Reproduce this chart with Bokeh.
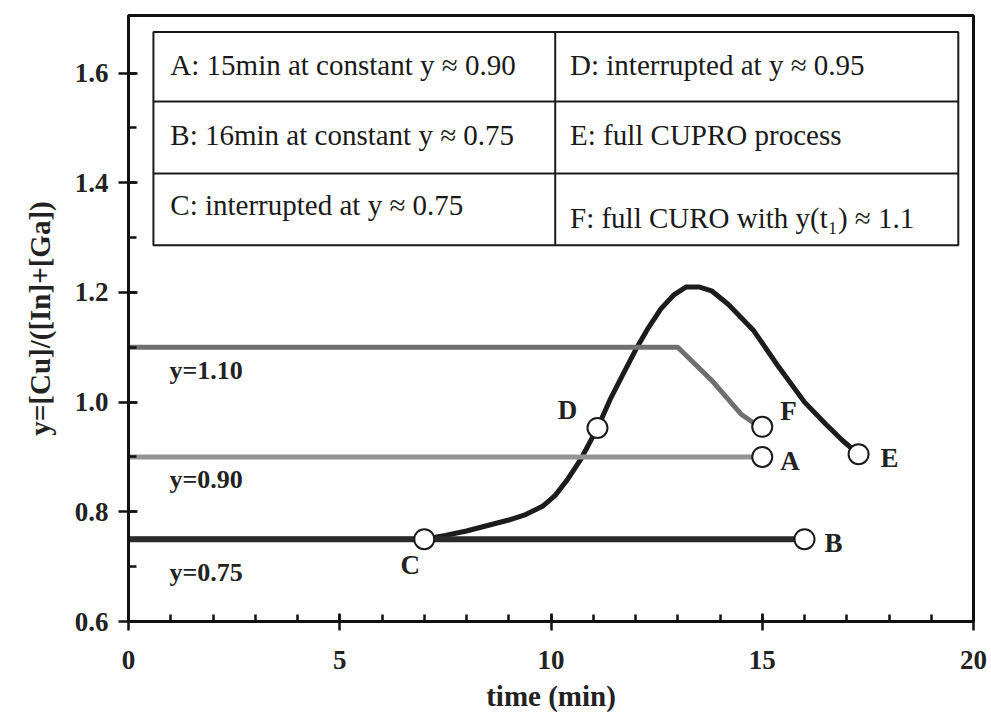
from bokeh.plotting import figure
from bokeh.models import FixedTicker, PrintfTickFormatter, Label, ColumnDataSource
from bokeh.core.properties import value
from bokeh.embed import file_html
from bokeh.resources import INLINE

# ---- data ----
time_A = [0, 15.0]
y_A = [0.90, 0.90]
time_B = [0, 16.0]
y_B = [0.75, 0.75]
time_F = [0, 13.0, 13.8, 14.5, 14.8, 15.0]
y_F = [1.10, 1.10, 1.04, 0.978, 0.962, 0.955]
time_E = [0, 7.0, 7.5, 8.0, 8.5, 9.0, 9.4, 9.8, 10.1, 10.4, 10.7, 11.1, 11.4, 11.7, 12.0,
          12.3, 12.6, 12.9, 13.2, 13.5, 13.8, 14.2, 14.8, 15.4, 16.0, 16.5, 16.9, 17.28]
y_E = [0.75, 0.75, 0.757, 0.765, 0.775, 0.785, 0.795, 0.81, 0.83, 0.86, 0.895, 0.953, 1.005,
       1.05, 1.095, 1.135, 1.17, 1.195, 1.21, 1.21, 1.203, 1.178, 1.13, 1.063, 1.0, 0.96,
       0.93, 0.905]

marker_names = ["C", "D", "F", "A", "B", "E"]
marker_t = [7.0, 11.1, 15.0, 15.0, 16.0, 17.28]
marker_y = [0.75, 0.953, 0.955, 0.90, 0.75, 0.905]

level_labels = ["y=1.10", "y=0.90", "y=0.75"]
level_values = [1.10, 0.90, 0.75]

table_left = ["A: 15min at constant y \u2248 0.90",
              "B: 16min at constant y \u2248 0.75",
              "C: interrupted at y \u2248 0.75"]
table_right = ["D: interrupted at y \u2248 0.95",
               "E: full CUPRO process",
               "F: full CURO with y(t\u2081) \u2248 1.1"]

x_major = [0, 5, 10, 15, 20]
x_minor = [i for i in range(0, 21)]
y_major = [0.6, 0.8, 1.0, 1.2, 1.4, 1.6]
y_minor = [0.6, 0.7, 0.8, 0.9, 1.0, 1.1, 1.2, 1.3, 1.4, 1.5, 1.6]

SERIF = "Liberation Serif"

p = figure(width=991, height=715, x_range=(0, 20), y_range=(0.6, 1.705),
           output_backend="svg", toolbar_location=None,
           min_border_left=128, min_border_right=18, min_border_top=15, min_border_bottom=94)
p.xgrid.visible = False
p.ygrid.visible = False
p.background_fill_color = "white"
p.border_fill_color = "white"
p.outline_line_color = "#111111"
p.outline_line_width = 3

for ax in (p.xaxis[0], p.yaxis[0]):
    ax.axis_line_width = 3
    ax.axis_line_color = "#111111"
    ax.major_tick_line_width = 2.5
    ax.minor_tick_line_width = 2.5
    ax.major_tick_line_color = "#111111"
    ax.minor_tick_line_color = "#111111"
    ax.major_label_text_font = SERIF
    ax.major_label_text_font_style = "bold"
    ax.major_label_text_font_size = "27px"
    ax.major_label_text_color = "#222222"
    ax.axis_label_text_font = SERIF
    ax.axis_label_text_font_style = "bold"
    ax.axis_label_text_font_size = "29px"
    ax.axis_label_text_color = "#222222"

p.xaxis.ticker = FixedTicker(ticks=x_major, minor_ticks=x_minor)
p.xaxis.major_tick_in = 8
p.xaxis.major_tick_out = 9
p.xaxis.minor_tick_in = 7
p.xaxis.minor_tick_out = 0
p.xaxis.major_label_standoff = 20
p.xaxis.axis_label = "time (min)"
p.xaxis.axis_label_standoff = 8

p.yaxis.ticker = FixedTicker(ticks=y_major, minor_ticks=y_minor)
p.yaxis.formatter = PrintfTickFormatter(format="%.1f")
p.yaxis.major_tick_in = 9
p.yaxis.major_tick_out = 10
p.yaxis.minor_tick_in = 8
p.yaxis.minor_tick_out = 0
p.yaxis.major_label_standoff = 10
p.yaxis.axis_label = "y=[Cu]/([In]+[Ga])"
p.yaxis.axis_label_standoff = 16

# ---- curves ----
p.line(time_E, y_E, line_color="#1c1c1c", line_width=5, line_join="round")
p.line(time_B, y_B, line_color="#2b2b2b", line_width=6)
p.line(time_A, y_A, line_color="#939393", line_width=5)
p.line(time_F, y_F, line_color="#6f6f6f", line_width=5, line_join="round")

p.scatter(marker_t, marker_y, size=20, fill_color="white", line_color="#1a1a1a", line_width=2)

# marker letters with pixel offsets
offs = {"C": (-14, -26, "center"), "D": (-30, 18, "center"), "F": (18, 16, "left"),
        "A": (18, -4, "left"), "B": (20, -4, "left"), "E": (22, -4, "left")}
for n, t, yv in zip(marker_names, marker_t, marker_y):
    dx, dy, al = offs[n]
    p.add_layout(Label(x=t, y=yv, x_offset=dx, y_offset=dy, text=n, text_align=al,
                       text_baseline="middle", text_font=SERIF, text_font_style="bold",
                       text_font_size="27px", text_color="#222222"))

# level labels under lines
for lab, lv in zip(level_labels, level_values):
    p.add_layout(Label(x=0.97, y=lv, y_offset=-23 if lv != 0.75 else -33, text=lab,
                       text_align="left", text_baseline="middle", text_font=SERIF,
                       text_font_style="bold", text_font_size="26px", text_color="#222222"))

# ---- table box ----
tb_l, tb_r, tb_m = 0.59, 19.64, 10.1
tb_b, tb_t = 1.286, 1.675
row_lines = [1.548, 1.417]
p.quad(left=[tb_l], right=[tb_r], bottom=[tb_b], top=[tb_t], fill_color="white",
       line_color="#1a1a1a", line_width=2)
p.segment(x0=[tb_l, tb_l, tb_m], y0=[row_lines[0], row_lines[1], tb_b],
          x1=[tb_r, tb_r, tb_m], y1=[row_lines[0], row_lines[1], tb_t],
          line_color="#1a1a1a", line_width=2)

row_y_left = [1.614, 1.487, 1.360]
row_y_right = [1.614, 1.487, 1.335]
src = ColumnDataSource(dict(x=[0.99] * 3 + [10.45] * 3, y=row_y_left + row_y_right,
                            t=table_left + table_right))
p.text(x="x", y="y", text="t", source=src, text_font=value(SERIF), text_font_size="29px",
       text_align="left", text_baseline="middle", text_color="#1a1a1a")

open("out.html", "w").write(file_html(p, INLINE))
